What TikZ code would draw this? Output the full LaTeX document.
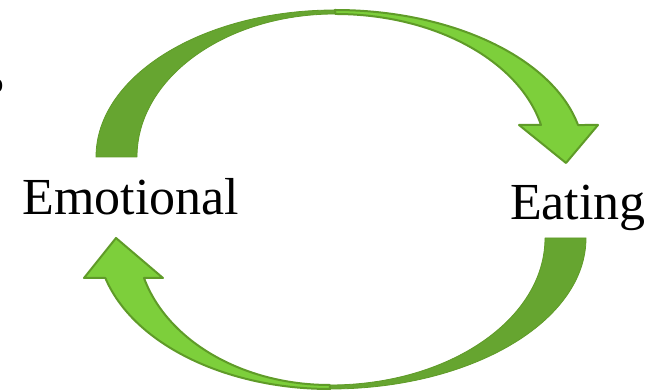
\documentclass[tikz,border=0pt]{standalone}
\usepackage{fontspec}
\setmainfont{Liberation Serif}
\usepackage{tikz}
\usetikzlibrary{positioning,calc}
\definecolor{backgreen}{RGB}{102,165,48}
\definecolor{frontgreen}{RGB}{125,207,59}
\definecolor{edgegreen}{RGB}{95,155,40}
\tikzset{backside/.style={fill=backgreen,draw=edgegreen,line width=0.8pt,line join=round},
         frontside/.style={fill=frontgreen,draw=edgegreen,line width=2pt,line join=round},
         word/.style={font=\fontsize{52}{60}\selectfont,anchor=base,inner sep=0pt}}

\begin{document}
\begin{tikzpicture}[x=1pt,y=1pt]
          \useasboundingbox(0,0)rectangle(656,390);
          % upper arrow, Emotional -> Eating
          \draw[backside](96,233)arc[start angle=180,end angle=90,x radius=239pt,y radius=147pt]
                --(335,376)arc[start angle=90,end angle=180,x radius=198pt,y radius=143pt]--cycle;
          \draw[frontside](335,380)arc[start angle=90,end angle=12.57,x radius=249pt,y radius=147pt]
                --(598,265)--(566,227)--(519,265)--(541,265)
                arc[start angle=12.93,end angle=90,x radius=211pt,y radius=143pt]--cycle;
          % lower arrow, Eating -> Emotional
          \draw[backside](586,152)arc[start angle=0,end angle=-90,x radius=256pt,y radius=151pt]
                --(330,5)arc[start angle=-90,end angle=0,x radius=215pt,y radius=147pt]--cycle;
          \draw[frontside](330,1)arc[start angle=-90,end angle=-164.64,x radius=233pt,y radius=151pt]
                --(84,112)--(116,152)--(163,112)--(144,112)
                arc[start angle=-164.21,end angle=-90,x radius=193pt,y radius=147pt]--cycle;
          % labels
          \node[word](emo)at(131,175){Emotional};
          \node[word](eat)at(578,170){Eating};
          \node[font=\fontsize{28}{30}\selectfont,anchor=east,inner sep=0pt](cut)at(3.5,303.5){o};
        \end{tikzpicture}
\end{document}
